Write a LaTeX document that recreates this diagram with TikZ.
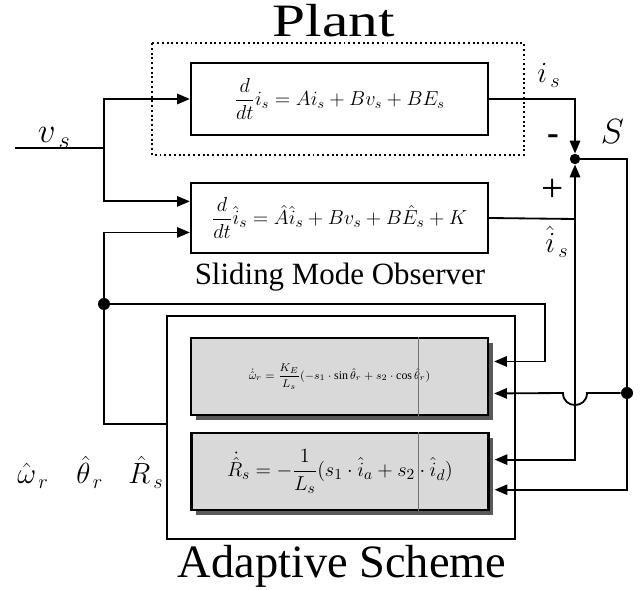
\documentclass[tikz,border=0pt]{standalone}
\usepackage{fontspec}
\setmainfont{Liberation Serif}
\usepackage{amsmath}
\usetikzlibrary{calc,arrows.meta,shadows}

\begin{document}
\begin{tikzpicture}[x=0.025cm,y=-0.025cm,
  wire/.style={line width=1.3pt},
  arr/.style={wire,-{Triangle[length=3.2mm,width=2.6mm]}},
  blk/.style={draw,line width=1.6pt,inner sep=0pt,minimum width=7.425cm},
  gblk/.style={blk,fill=black!15,minimum height=1.925cm,
    drop shadow={shadow xshift=0.12cm,shadow yshift=-0.12cm,opacity=1,fill=black!65}},
  jdot/.style={circle,fill,inner sep=0pt,minimum size=0.3cm},
  lbl/.style={anchor=base west,inner sep=0pt,font=\fontsize{21}{24}\selectfont}]
				%%%%% frame %%%%%
				\useasboundingbox (0,0) rectangle (640,590);
				\def\xcut{0.763}

				%% plant and observer
				\draw[dotted,line width=1.4pt] (152,43) rectangle (524,155);
				\node[blk,minimum height=1.8cm,font=\fontsize{14.5}{17}\selectfont] (plant) at (339.5,99)
				  {$\displaystyle \frac{d}{dt}i_s = Ai_s + Bv_s + BE_s$};
				\node[blk,minimum height=1.75cm,font=\fontsize{15}{18}\selectfont] (obs) at (339.5,218)
				  {$\displaystyle \frac{d}{dt}\hat{i}_s = \hat{A}\hat{i}_s + Bv_s + B\hat{E}_s + K$};

				%% adaptive scheme
				\node[draw,line width=1.2pt,minimum width=8.7cm,minimum height=5.575cm] (adapt) at (341,427.5) {};
				\node[gblk,font=\fontsize{8.5}{10}\selectfont] (om) at (339.5,376.5)
				  {$\dot{\hat{\omega}}_r = \dfrac{K_E}{L_s}(-s_1\cdot\sin\hat{\theta}_r + s_2\cdot\cos\hat{\theta}_r)$};
				\node[gblk,font=\fontsize{15}{18}\selectfont] (rb) at (340,471.5)
				  {$\dot{\hat{R}}_s = -\dfrac{1}{L_s}(s_1\cdot\hat{i}_a + s_2\cdot\hat{i}_d)$};
				\draw[black!55,line width=0.4pt] ($(om.north west)!\xcut!(om.north east)$) -- ($(om.south west)!\xcut!(om.south east)$);
				\draw[black!55,line width=0.4pt] ($(rb.north west)!\xcut!(rb.north east)$) -- ($(rb.south west)!\xcut!(rb.south east)$);

				%% input
				\coordinate (vin) at (15,148);
				\coordinate (vsplit) at (104,148);
				\draw[wire] (vin) -- (vsplit);
				\draw[arr] (vsplit) |- (plant.west);
				\draw[arr] (vsplit) |- ($(obs.north west)!0.27!(obs.south west)$);

				%% estimates fed back
				\node[jdot] (fbdot) at (104,304) {};
				\coordinate (aout) at (167,424);
				\coordinate (fbturn) at (545,304);
				\draw[arr] (fbdot) |- ($(obs.north west)!0.7!(obs.south west)$);
				\draw[wire] (fbdot) |- (aout);
				\draw[arr] (fbdot) -- (fbturn) |- ($(om.north east)!0.31!(om.south east)+(5,0)$);

				%% error S
				\node[jdot,minimum size=0.26cm] (sdot) at (575,159) {};
				\coordinate (obsout) at (575,219);
				\coordinate (sright) at (627,159);
				\node[jdot] (rdot) at (627,393) {};
				\draw[arr] (plant.east) -| (sdot);
				\draw[wire] (obs.east) -- (obsout);
				\draw[arr] (obsout) -- (sdot);
				\draw[arr] (obsout) |- ($(rb.north east)!0.35!(rb.south east)+(5,0)$);
				\draw[wire] (sdot) -- (sright) -- (rdot);
				\draw[arr] (rdot) |- ($(rb.north east)!0.73!(rb.south east)+(5,0)$);
				\draw[arr] (rdot) -- (587,393) .. controls (587,409) and (563,409) .. (563,393)
				  -- ($(om.north east)!0.714!(om.south east)+(5,0)$);

				%% texts
				\node[anchor=base,font=\fontsize{33}{38}\selectfont] (tplant) at (334,37) {\scalebox{1.28}[1]{Plant}};
				\node[anchor=base,font=\fontsize{22}{26}\selectfont] (tobs) at (340,285) {Sliding Mode Observer};
				\node[anchor=base,font=\fontsize{33}{38}\selectfont] (tadapt) at (342,578) {Adaptive Scheme};
				\node[anchor=base west,font=\fontsize{27}{30}\selectfont] (lv) at (33,143) {$v_{\,s}$};
				\node[lbl] (li) at (537,83) {$i_{\,s}$};
				\node[lbl] (lih) at (545,253) {$\hat{i}_{\,s}$};
				\node[anchor=base west,font=\fontsize{25}{28}\selectfont] (ls) at (596,144) {$S$};
				\node[font=\fontsize{25}{28}\selectfont\bfseries] (lminus) at (553,140) {-};
				\node[font=\fontsize{28}{32}\selectfont] (lplus) at (553,190) {+};
				\node[lbl] (lw) at (17,484) {$\hat{\omega}_{\,r}$};
				\node[lbl] (lt) at (76,484) {$\hat{\theta}_{\,r}$};
				\node[lbl] (lr) at (128,484) {$\hat{R}_{\,s}$};
			\end{tikzpicture}
\end{document}
